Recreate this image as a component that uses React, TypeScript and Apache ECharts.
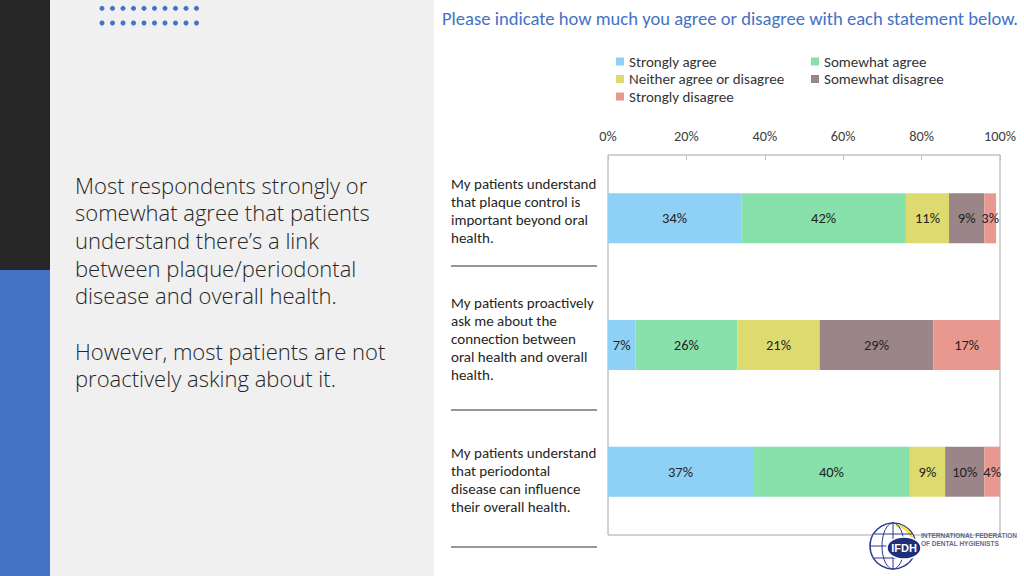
import React, { useEffect, useRef } from "react";
import * as echarts from "echarts";

const categories = [
  "My patients understand\nthat plaque control is\nimportant beyond oral\nhealth.",
  "My patients proactively\nask me about the\nconnection between\noral health and overall\nhealth.",
  "My patients understand\nthat periodontal\ndisease can influence\ntheir overall health.",
];
const seriesNames = [
  "Strongly agree",
  "Somewhat agree",
  "Neither agree or disagree",
  "Somewhat disagree",
  "Strongly disagree",
];
const stronglyAgree = [34, 7, 37];
const somewhatAgree = [42, 26, 40];
const neither = [11, 21, 9];
const somewhatDisagree = [9, 29, 10];
const stronglyDisagree = [3, 17, 4];
const seriesValues = [stronglyAgree, somewhatAgree, neither, somewhatDisagree, stronglyDisagree];
const seriesColors = ["#8fd0f5", "#88e0aa", "#dddb70", "#9a8688", "#e8988f"];

const titleText = "Please indicate how much you agree or disagree with each statement below.";
const paragraph1 = [
  "Most respondents strongly or",
  "somewhat agree that patients",
  "understand there\u2019s a link",
  "between plaque/periodontal",
  "disease and overall health.",
];
const paragraph2 = ["However, most patients are not", "proactively asking about it."];

const FONT = "Carlito, Lato, 'Liberation Sans', sans-serif";
const PARA_FONT = "'Open Sans', Lato, sans-serif";

export default function App() {
  const ref = useRef<HTMLDivElement>(null);
  useEffect(() => {
    document.body.style.margin = "0";
    const chart = echarts.init(ref.current!, undefined, { renderer: "svg" });

    const dots: any[] = [];
    for (let r = 0; r < 2; r++) {
      for (let i = 0; i < 10; i++) {
        dots.push({
          type: "circle",
          shape: { cx: 102 + i * 10.5, cy: 8.3 + r * 14.7, r: 2.5 },
          style: { fill: "#4472c4" },
          silent: true,
        });
      }
    }

    // spacer heights to nudge each category label block: [top, bottom]
    const spacers = [
      [0, 14],
      [0, 12],
      [16, 0],
    ];

    const legendText = { fontFamily: FONT, fontSize: 15, color: "#333", lineHeight: 15 };

    const option: any = {
      animation: false,
      backgroundColor: "#ffffff",
      textStyle: { fontFamily: FONT },
      title: {
        text: titleText,
        left: 437,
        top: 4,
        textStyle: { fontFamily: FONT, fontSize: 18.6, fontWeight: "normal", color: "#4472c4" },
      },
      legend: [
        {
          data: [seriesNames[0], seriesNames[2], seriesNames[4]],
          orient: "vertical",
          left: 611,
          top: 49,
          icon: "rect",
          itemWidth: 8,
          itemHeight: 8,
          itemGap: 2.5,
          textStyle: legendText,
        },
        {
          data: [seriesNames[1], seriesNames[3]],
          orient: "vertical",
          left: 806,
          top: 49,
          icon: "rect",
          itemWidth: 8,
          itemHeight: 8,
          itemGap: 2.5,
          textStyle: legendText,
        },
      ],
      grid: {
        left: 608,
        right: 24,
        top: 155,
        bottom: 41,
        show: true,
        borderColor: "#a6a6a6",
        borderWidth: 1,
        backgroundColor: "transparent",
      },
      xAxis: {
        type: "value",
        position: "top",
        min: 0,
        max: 100,
        interval: 20,
        axisLine: { show: false },
        axisTick: { show: true, inside: true, length: 5, lineStyle: { color: "#c0c0c0" } },
        splitLine: { show: false },
        axisLabel: {
          formatter: "{value}%",
          margin: 12,
          fontFamily: FONT,
          fontSize: 14.3,
          color: "#404040",
        },
      },
      yAxis: {
        type: "category",
        inverse: true,
        data: categories,
        axisLine: { show: false },
        axisTick: { show: false },
        axisLabel: {
          align: "left",
          margin: 157,
          lineHeight: 18,
          fontFamily: FONT,
          fontSize: 15,
          color: "#262626",
          formatter: (value: string, index: number) => {
            const lines = value.split("\n").map((l) => `{t|${l}}`);
            const [top, bottom] = spacers[index] || [0, 0];
            if (top) lines.unshift(`{s${top}| }`);
            if (bottom) lines.push(`{s${bottom}| }`);
            return lines.join("\n");
          },
          rich: {
            t: { fontFamily: FONT, fontSize: 15, lineHeight: 18, color: "#262626" },
            s12: { fontSize: 1, lineHeight: 12 },
            s14: { fontSize: 1, lineHeight: 14 },
            s16: { fontSize: 1, lineHeight: 16 },
          },
        },
      },
      series: seriesNames.map((name, i) => ({
        name,
        type: "bar",
        stack: "total",
        barWidth: 50,
        data: seriesValues[i],
        itemStyle: { color: seriesColors[i] },
        label: {
          show: true,
          position: "inside",
          formatter: "{c}%",
          fontFamily: FONT,
          fontSize: 14.5,
          color: "#222",
        },
      })),
      graphic: [
        { type: "rect", z: -10, shape: { x: 0, y: 0, width: 50, height: 270 }, style: { fill: "#262626" }, silent: true },
        { type: "rect", z: -10, shape: { x: 0, y: 270, width: 50, height: 306 }, style: { fill: "#4472c4" }, silent: true },
        { type: "rect", z: -10, shape: { x: 50, y: 0, width: 384, height: 576 }, style: { fill: "#f0f0f0" }, silent: true },
        ...dots,
        {
          type: "text",
          x: 75,
          y: 171,
          style: {
            text: paragraph1.join("\n"),
            font: `300 22px ${PARA_FONT}`,
            lineHeight: 27.6,
            fill: "#262626",
          },
          silent: true,
        },
        {
          type: "text",
          x: 75,
          y: 337,
          style: {
            text: paragraph2.join("\n"),
            font: `300 22px ${PARA_FONT}`,
            lineHeight: 27.6,
            fill: "#262626",
          },
          silent: true,
        },
        { type: "line", shape: { x1: 451, y1: 266, x2: 597, y2: 266 }, style: { stroke: "#333", lineWidth: 1 }, silent: true },
        { type: "line", shape: { x1: 451, y1: 410, x2: 597, y2: 410 }, style: { stroke: "#333", lineWidth: 1 }, silent: true },
        { type: "line", shape: { x1: 451, y1: 547, x2: 597, y2: 547 }, style: { stroke: "#333", lineWidth: 1 }, silent: true },
        // logo
        {
          type: "group",
          z: 10,
          children: [
            { type: "circle", shape: { cx: 893, cy: 546, r: 23 }, style: { fill: "#ffffff", stroke: "#2b3990", lineWidth: 1.5 } },
            { type: "arc", shape: { cx: 893, cy: 546, r: 21, startAngle: -Math.PI / 2.2, endAngle: -Math.PI / 8 }, style: { stroke: "#f2e34a", lineWidth: 3, fill: "none" } },
            { type: "ellipse", shape: { cx: 893, cy: 546, rx: 11, ry: 23 }, style: { fill: "none", stroke: "#2b3990", lineWidth: 1 } },
            { type: "line", shape: { x1: 893, y1: 523, x2: 893, y2: 569 }, style: { stroke: "#2b3990", lineWidth: 1 } },
            { type: "line", shape: { x1: 870, y1: 546, x2: 916, y2: 546 }, style: { stroke: "#2b3990", lineWidth: 1 } },
            { type: "line", shape: { x1: 874, y1: 534, x2: 912, y2: 534 }, style: { stroke: "#2b3990", lineWidth: 1 } },
            { type: "line", shape: { x1: 874, y1: 558, x2: 912, y2: 558 }, style: { stroke: "#2b3990", lineWidth: 1 } },
            { type: "ellipse", shape: { cx: 904, cy: 548, rx: 17, ry: 11 }, style: { fill: "#1f2f7a", stroke: "#ffffff", lineWidth: 1.5 } },
            {
              type: "text",
              x: 904,
              y: 548,
              style: { text: "IFDH", font: "bold 11px 'Liberation Sans', sans-serif", fill: "#ffffff", align: "center", verticalAlign: "middle" },
            },
            {
              type: "text",
              x: 921,
              y: 535,
              style: { text: "INTERNATIONAL FEDERATION", font: "bold 6.5px 'Liberation Sans', sans-serif", fill: "#5c6b8f", verticalAlign: "middle" },
            },
            {
              type: "text",
              x: 921,
              y: 543,
              style: { text: "OF DENTAL HYGIENISTS", font: "bold 6.5px 'Liberation Sans', sans-serif", fill: "#5c6b8f", verticalAlign: "middle" },
            },
          ],
        },
      ],
    };
    chart.setOption(option);
    return () => chart.dispose();
  }, []);
  return (
    <div
      ref={ref}
      style={{ position: "absolute", left: 0, top: 0, width: 1024, height: 576 }}
    />
  );
}
